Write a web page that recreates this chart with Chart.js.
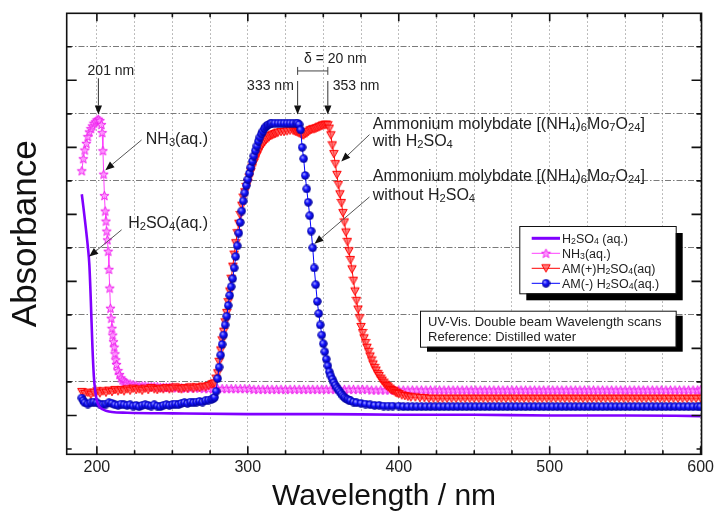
<!DOCTYPE html>
<html>
<head>
<meta charset="utf-8">
<script src="https://cdn.jsdelivr.net/npm/chart.js@4.4.1/dist/chart.umd.min.js"></script>
<style>
  html, body { margin: 0; padding: 0; background: #fff; }
  canvas { display: block; }
</style>
</head>
<body>
<canvas id="uvChart" width="718" height="512"></canvas>
<script>
// Data: [wavelength nm, absorbance]
const h2so4Scan = [[190,3.80],[191,3.62],[192,3.43],[193,3.23],[194,3.02],[195,2.75],[196,2.20],[197,1.55],[198,1.08],[199,0.85],[200,0.72],[201,0.66],[202,0.62],[204,0.59],[206,0.57],[210,0.55],[220,0.54],[250,0.53],[300,0.52],[350,0.52],[400,0.51],[450,0.51],[500,0.50],[550,0.50],[600,0.49]];

const nh3Scan = [[190,4.15],[191,4.33],[192,4.46],[193,4.56],[194,4.66],[195,4.73],[196,4.78],[197,4.82],[198,4.86],[199,4.88],[200,4.91],[201,4.92],[202,4.90],[203,4.84],[203.5,4.72],[204,4.45],[204.5,4.10],[205,3.78],[205.5,3.55],[206,3.40],[206.5,3.25],[207,3.12],[207.5,2.95],[208,2.68],[208.5,2.40],[209,2.10],[209.5,1.95],[210,1.80],[210.5,1.70],[211,1.60],[211.5,1.52],[212,1.42],[212.5,1.33],[213,1.26],[214,1.17],[215,1.11],[216,1.06],[217,1.03],[218,1.01],[219,0.99],[220,0.98],[222,0.97],[224,0.96],[226,0.95],[228,0.94],[230,0.94],[232,0.94],[234,0.93],[236,0.93],[238,0.93],[240,0.93],[242,0.92],[244,0.92],[246,0.92],[248,0.92],[250,0.92],[253,0.91],[256,0.91],[259,0.91],[262,0.91],[265,0.91],[268,0.91],[271,0.90],[274,0.90],[277,0.90],[280,0.90],[283,0.90],[286,0.90],[289,0.90],[292,0.90],[295,0.90],[298,0.90],[301,0.90],[304,0.89],[307,0.89],[310,0.89],[313,0.89],[316,0.89],[319,0.89],[322,0.89],[325,0.89],[328,0.89],[331,0.89],[334,0.89],[337,0.89],[340,0.89],[343,0.89],[346,0.89],[349,0.89],[352,0.89],[355,0.89],[358,0.89],[361,0.89],[364,0.89],[367,0.89],[370,0.89],[373,0.89],[376,0.89],[379,0.89],[382,0.88],[385,0.88],[388,0.88],[391,0.88],[394,0.88],[397,0.88],[400,0.88],
  [403,0.88],[406,0.88],[409,0.88],[412,0.88],[415,0.88],[418,0.88],[421,0.88],[424,0.88],[427,0.88],[430,0.88],[433,0.88],[436,0.88],[439,0.88],[442,0.88],[445,0.88],[448,0.88],[451,0.88],[454,0.88],[457,0.88],[460,0.88],[463,0.88],[466,0.88],[469,0.88],[472,0.88],[475,0.88],[478,0.88],[481,0.88],[484,0.88],[487,0.88],[490,0.88],[493,0.88],[496,0.88],[499,0.88],[502,0.88],[505,0.88],[508,0.88],[511,0.88],[514,0.88],[517,0.88],[520,0.88],[523,0.88],[526,0.88],[529,0.88],[532,0.88],[535,0.88],[538,0.88],[541,0.88],[544,0.88],[547,0.88],[550,0.88],[553,0.88],[556,0.88],[559,0.88],[562,0.88],[565,0.88],[568,0.88],[571,0.88],[574,0.88],[577,0.88],[580,0.88],[583,0.88],[586,0.88],[589,0.88],[592,0.88],[595,0.88],[598,0.88],[600,0.88]];

const amPlusScan = [[190,0.85],[192,0.82],[194,0.84],[196,0.81],[198,0.84],[200,0.86],[202,0.83],[204,0.86],[206,0.84],[208,0.87],[210,0.85],[212,0.88],[214,0.86],[216,0.88],[218,0.86],[220,0.89],[222,0.87],[224,0.90],[226,0.88],[228,0.89],[230,0.87],[232,0.90],[234,0.88],[236,0.91],[238,0.89],[240,0.88],[242,0.90],[244,0.89],[246,0.91],[248,0.89],[250,0.90],[252,0.92],[254,0.90],[256,0.89],[258,0.91],[260,0.90],[262,0.92],[264,0.90],[266,0.92],[268,0.91],[270,0.93],[272,0.92],[274,0.94],[276,0.96],[277,0.97],
  [278,0.98],[279,1.05],[280,1.13],[281,1.30],[282,1.47],[283,1.62],[284,1.75],[285,1.89],[286,2.03],[287,2.19],[288,2.35],[289,2.54],[290,2.72],[291,2.90],[292,3.07],[293,3.22],[294,3.36],[295,3.49],[296,3.63],[297,3.75],[298,3.83],[299,3.91],[300,3.97],[301,4.05],[302,4.13],[303,4.20],[304,4.27],[305,4.32],[306,4.38],[307,4.43],[308,4.48],[309,4.52],[310,4.55],[311,4.58],[312,4.61],[313,4.63],[314,4.65],[315,4.67],[316,4.68],[317,4.69],[318,4.70],[319,4.71],[320,4.72],[322,4.73],[324,4.73],[326,4.74],[328,4.75],[330,4.75],[331,4.74],[332,4.73],[333,4.72],[334,4.71],[335,4.70],[336,4.68],[337,4.68],[338,4.70],[339,4.71],[340,4.73],[341,4.75],[342,4.76],[343,4.77],[344,4.77],[345,4.78],[346,4.79],[347,4.80],[348,4.81],[349,4.82],[350,4.83],[351,4.83],[352,4.84],[353,4.83],[354,4.78],[355,4.68],[356,4.53],[357,4.40],[358,4.25],[359,4.09],[360,3.94],[361,3.80],[362,3.67],[363,3.52],[364,3.38],[365,3.23],[366,3.09],[367,2.95],[368,2.82],[369,2.68],[370,2.51],[371,2.35],[372,2.21],[373,2.08],[374,1.95],[375,1.82],[376,1.73],[377,1.65],[378,1.58],[379,1.51],[380,1.45],[381,1.38],[382,1.32],[383,1.26],[384,1.21],[385,1.17],[386,1.12],[387,1.09],[388,1.05],[389,1.02],[390,0.99],[391,0.96],[392,0.94],[393,0.92],[394,0.90],[395,0.88],[396,0.87],[397,0.86],[398,0.84],[399,0.83],[400,0.82],[402,0.80],[404,0.79],[406,0.78],[408,0.77],[411,0.77],[414,0.76],[417,0.76],[420,0.75],
  [423,0.75],[426,0.75],[429,0.75],[432,0.75],[435,0.75],[438,0.75],[441,0.75],[444,0.75],[447,0.75],[450,0.75],[453,0.75],[456,0.75],[459,0.75],[462,0.75],[465,0.75],[468,0.75],[471,0.75],[474,0.75],[477,0.75],[480,0.75],[483,0.75],[486,0.75],[489,0.75],[492,0.75],[495,0.75],[498,0.75],[501,0.75],[504,0.75],[507,0.75],[510,0.75],[513,0.75],[516,0.75],[519,0.75],[522,0.75],[525,0.75],[528,0.75],[531,0.75],[534,0.75],[537,0.75],[540,0.75],[543,0.75],[546,0.75],[549,0.75],[552,0.75],[555,0.75],[558,0.75],[561,0.75],[564,0.75],[567,0.75],[570,0.75],[573,0.75],[576,0.75],[579,0.75],[582,0.75],[585,0.75],[588,0.75],[591,0.75],[594,0.75],[597,0.75],[600,0.75]];

const amMinusScan = [[190,0.76],[191,0.72],[192,0.69],[194,0.67],[196,0.69],[198,0.70],[200,0.69],[202,0.67],[204,0.66],[206,0.67],[208,0.69],[210,0.68],[212,0.66],[214,0.65],[216,0.67],[218,0.66],[220,0.65],[222,0.66],[224,0.64],[226,0.65],[228,0.63],[230,0.65],[232,0.66],[234,0.65],[236,0.64],[238,0.66],[240,0.64],[242,0.63],[244,0.65],[246,0.66],[248,0.65],[250,0.66],[252,0.67],[254,0.66],[256,0.68],[258,0.69],[260,0.68],[262,0.70],[264,0.69],[266,0.70],[268,0.71],[270,0.70],[272,0.72],[274,0.73],[276,0.74],[277,0.75],
  [278,0.77],[279,0.86],[280,1.05],[281,1.22],[282,1.40],[283,1.56],[284,1.70],[285,1.85],[286,1.98],[287,2.14],[288,2.29],[289,2.42],[290,2.54],[291,2.70],[292,2.87],[293,3.03],[294,3.22],[295,3.38],[296,3.55],[297,3.70],[298,3.82],[299,3.93],[300,4.02],[301,4.11],[302,4.20],[303,4.29],[304,4.37],[305,4.45],[306,4.52],[307,4.59],[308,4.65],[309,4.70],[310,4.74],[311,4.78],[312,4.81],[313,4.83],[314,4.84],[315,4.85],[316,4.86],[318,4.86],[320,4.86],[322,4.86],[324,4.86],[326,4.86],[328,4.86],[330,4.86],[332,4.86],[333,4.86],
  [334,4.84],[335,4.76],[336,4.50],[337,4.33],[338,4.08],[339,3.88],[340,3.68],[341,3.48],[342,3.25],[343,3.00],[344,2.70],[345,2.45],[346,2.20],[347,2.02],[348,1.85],[349,1.70],[350,1.57],[351,1.45],[352,1.34],[353,1.24],[354,1.15],[355,1.09],[356,1.04],[357,0.99],[358,0.95],[359,0.91],[360,0.88],[361,0.85],[362,0.82],[363,0.79],[364,0.77],[365,0.75],[366,0.74],[367,0.73],[368,0.72],[370,0.70],[372,0.69],[375,0.68],[378,0.67],[381,0.66],[384,0.65],[387,0.65],[390,0.64],[393,0.64],[396,0.64],[400,0.64],
  [403,0.63],[406,0.63],[409,0.63],[412,0.63],[415,0.63],[418,0.63],[421,0.63],[424,0.63],[427,0.63],[430,0.63],[433,0.63],[436,0.63],[439,0.63],[442,0.63],[445,0.63],[448,0.63],[451,0.63],[454,0.63],[457,0.63],[460,0.63],[463,0.63],[466,0.63],[469,0.63],[472,0.63],[475,0.63],[478,0.63],[481,0.63],[484,0.63],[487,0.63],[490,0.63],[493,0.63],[496,0.63],[499,0.63],[502,0.63],[505,0.63],[508,0.63],[511,0.63],[514,0.63],[517,0.63],[520,0.63],[523,0.63],[526,0.63],[529,0.63],[532,0.63],[535,0.63],[538,0.63],[541,0.63],[544,0.63],[547,0.63],[550,0.63],[553,0.63],[556,0.63],[559,0.63],[562,0.63],[565,0.63],[568,0.63],[571,0.63],[574,0.63],[577,0.63],[580,0.63],[583,0.63],[586,0.63],[589,0.63],[592,0.63],[595,0.63],[598,0.63],[600,0.63]];

const seriesLabels = ['H2SO4 (aq.)', 'NH3(aq.)', 'AM(+)H2SO4(aq)', 'AM(-) H2SO4(aq.)'];
const legendRich = ['H_2SO_4 (aq.)', 'NH_3(aq.)', 'AM(+)H_2SO_4(aq)', 'AM(-) H_2SO_4(aq.)'];
const xLabelValues = [200, 300, 400, 500, 600];
const peakMarks = [201, 333, 353];

const FONT = '"Liberation Sans", Arial, Helvetica, sans-serif';

// marker sprites
function makeStar() {
  const c = document.createElement('canvas');
  c.width = 11; c.height = 11;
  const g = c.getContext('2d');
  g.beginPath();
  for (let i = 0; i < 10; i++) {
    const r = i % 2 ? 2.0 : 4.8;
    const a = -Math.PI / 2 + i * Math.PI / 5;
    const px = 5.5 + r * Math.cos(a), py = 5.9 + r * Math.sin(a);
    if (i) g.lineTo(px, py); else g.moveTo(px, py);
  }
  g.closePath();
  g.fillStyle = 'rgba(255,150,255,0.9)';
  g.fill();
  g.strokeStyle = '#ee22ee';
  g.lineWidth = 1;
  g.stroke();
  return c;
}

function makeTriangle() {
  const c = document.createElement('canvas');
  c.width = 10; c.height = 10;
  const g = c.getContext('2d');
  g.beginPath();
  g.moveTo(0.8, 1.4); g.lineTo(9.2, 1.4); g.lineTo(5, 8.8); g.closePath();
  g.fillStyle = 'rgba(255,80,80,0.75)';
  g.fill();
  g.strokeStyle = '#ff0000';
  g.lineWidth = 1;
  g.stroke();
  return c;
}

function makeBall() {
  const c = document.createElement('canvas');
  c.width = 9; c.height = 9;
  const g = c.getContext('2d');
  const grad = g.createRadialGradient(3.2, 3.0, 0.4, 4.5, 4.5, 4.5);
  grad.addColorStop(0, '#9a9aff');
  grad.addColorStop(0.4, '#1414ff');
  grad.addColorStop(1, '#00008c');
  g.beginPath();
  g.arc(4.5, 4.5, 4.2, 0, Math.PI * 2);
  g.fillStyle = grad;
  g.fill();
  return c;
}

const starImg = makeStar();
const triImg = makeTriangle();
const ballImg = makeBall();

// text with subscript digits marked by "_"
function richText(ctx, str, x, y, size, align) {
  const parts = [];
  str.replace(/_(\d+)|[^_]+/g, (m, d) => { parts.push(d ? { t: d, sub: true } : { t: m, sub: false }); return m; });
  let total = 0;
  parts.forEach(p => {
    ctx.font = (p.sub ? size * 0.7 : size) + 'px ' + FONT;
    p.w = ctx.measureText(p.t).width;
    total += p.w;
  });
  let cx = align === 'center' ? x - total / 2 : (align === 'right' ? x - total : x);
  ctx.textAlign = 'left';
  ctx.textBaseline = 'alphabetic';
  parts.forEach(p => {
    ctx.font = (p.sub ? size * 0.7 : size) + 'px ' + FONT;
    ctx.fillText(p.t, cx, y + (p.sub ? size * 0.12 : 0));
    cx += p.w;
  });
}

function arrow(ctx, x1, y1, x2, y2, lineColor) {
  const ang = Math.atan2(y2 - y1, x2 - x1);
  const hl = 9, hw = 3.6;
  const bx = x2 - hl * Math.cos(ang), by = y2 - hl * Math.sin(ang);
  ctx.strokeStyle = lineColor;
  ctx.lineWidth = 1;
  ctx.beginPath(); ctx.moveTo(x1, y1); ctx.lineTo(bx, by); ctx.stroke();
  ctx.fillStyle = '#111';
  ctx.beginPath();
  ctx.moveTo(x2, y2);
  ctx.lineTo(bx + hw * Math.sin(ang), by - hw * Math.cos(ang));
  ctx.lineTo(bx - hw * Math.sin(ang), by + hw * Math.cos(ang));
  ctx.closePath();
  ctx.fill();
}

// frame + inward ticks
const framePlugin = {
  id: 'frame',
  afterDatasetsDraw(chart) {
    const { ctx, chartArea: a, scales: { x, y } } = chart;
    ctx.save();
    ctx.strokeStyle = '#111';
    ctx.lineWidth = 1.6;
    ctx.strokeRect(a.left, a.top, a.right - a.left, a.bottom - a.top);
    ctx.beginPath();
    for (let v = 200; v <= 600; v += 25) {
      const px = x.getPixelForValue(v);
      const len = v % 100 === 0 ? 8 : 4;
      ctx.moveTo(px, a.bottom); ctx.lineTo(px, a.bottom - len);
      ctx.moveTo(px, a.top); ctx.lineTo(px, a.top + len);
    }
    for (let v = 0; v <= 6; v += 0.5) {
      const py = y.getPixelForValue(v);
      const len = v % 1 ? 10 : 5;
      ctx.moveTo(a.left, py); ctx.lineTo(a.left + len, py);
      ctx.moveTo(a.right, py); ctx.lineTo(a.right - len, py);
    }
    ctx.stroke();
    ctx.restore();
  }
};

// peak labels, arrows, legend and note boxes
const notesPlugin = {
  id: 'notes',
  afterDraw(chart) {
    const { ctx, scales: { x, y } } = chart;
    const X = v => x.getPixelForValue(v), Y = v => y.getPixelForValue(v);
    ctx.save();
    ctx.fillStyle = '#222';

    // peak wavelength arrows
    richText(ctx, '201 nm', X(209.3), Y(5.65) + 5, 14, 'center');
    ctx.fillStyle = '#222';
    richText(ctx, '333 nm', X(315), Y(5.43) + 5, 14, 'center');
    richText(ctx, '353 nm', X(356.3), Y(5.43) + 5, 14, 'left');
    peakMarks.forEach(p => arrow(ctx, X(p), p === 201 ? Y(5.53) : Y(5.49), X(p), Y(4.99), '#333'));

    // delta bracket
    ctx.fillStyle = '#222';
    richText(ctx, '\u03b4 = 20 nm', X(358), Y(5.83) + 5, 14, 'center');
    ctx.strokeStyle = '#444';
    ctx.lineWidth = 1;
    ctx.beginPath();
    const by = Y(5.64);
    ctx.moveTo(X(333), by); ctx.lineTo(X(353), by);
    ctx.moveTo(X(333), by - 4); ctx.lineTo(X(333), by + 4);
    ctx.moveTo(X(353), by - 4); ctx.lineTo(X(353), by + 4);
    ctx.stroke();

    // curve labels
    ctx.fillStyle = '#222';
    richText(ctx, 'NH_3(aq.)', X(232.4), Y(4.635) + 6, 16, 'left');
    arrow(ctx, X(229.6), Y(4.61), X(205.6), Y(4.16), '#555');
    ctx.fillStyle = '#222';
    richText(ctx, 'H_2SO_4(aq.)', X(220.7), Y(3.39) + 6, 16, 'left');
    arrow(ctx, X(216.4), Y(3.27), X(194.9), Y(2.87), '#555');

    ctx.fillStyle = '#222';
    richText(ctx, 'Ammonium molybdate [(NH_4)_6Mo_7O_24]', X(382.8), Y(4.86) + 6, 16, 'left');
    richText(ctx, 'with H_2SO_4', X(382.8), Y(4.61) + 6, 16, 'left');
    arrow(ctx, X(380.6), Y(4.69), X(361.9), Y(4.29), '#555');
    ctx.fillStyle = '#222';
    richText(ctx, 'Ammonium molybdate [(NH_4)_6Mo_7O_24]', X(382.8), Y(4.09) + 6, 16, 'left');
    richText(ctx, 'without H_2SO_4', X(382.8), Y(3.81) + 6, 16, 'left');
    arrow(ctx, X(380.6), Y(3.76), X(344.2), Y(3.06), '#555');

    // legend box with shadow
    const lx = 519.3, ly = 226, lw = 156.4, lh = 67.3;
    ctx.fillStyle = '#000';
    ctx.fillRect(lx + 7, ly + 7, lw, lh);
    ctx.fillStyle = '#fff';
    ctx.fillRect(lx, ly, lw, lh);
    ctx.strokeStyle = '#111';
    ctx.lineWidth = 1;
    ctx.strokeRect(lx + 0.5, ly + 0.5, lw, lh);
    chart.data.datasets.forEach((ds, i) => {
      const ry = 238.3 + i * 15;
      ctx.strokeStyle = ds.borderColor;
      ctx.lineWidth = i === 0 ? 3 : 1;
      ctx.beginPath(); ctx.moveTo(531.7, ry); ctx.lineTo(560, ry); ctx.stroke();
      if (ds.pointStyle && typeof ds.pointStyle === 'object') {
        const im = ds.pointStyle;
        ctx.drawImage(im, 546 - im.width / 2, ry - im.height / 2);
      }
      ctx.fillStyle = '#222';
      richText(ctx, legendRich[i], 562, ry + 4.5, 12.5, 'left');
    });

    // scan note box
    const nx = 420, ny = 310.7, nw = 255.7, nh = 36;
    ctx.fillStyle = '#000';
    ctx.fillRect(nx + 7, ny + 5, nw, nh);
    ctx.fillStyle = '#fff';
    ctx.fillRect(nx, ny, nw, nh);
    ctx.strokeStyle = '#111';
    ctx.strokeRect(nx + 0.5, ny + 0.5, nw, nh);
    ctx.fillStyle = '#222';
    richText(ctx, 'UV-Vis. Double beam Wavelength scans', 428, ny + 15.5, 13, 'left');
    richText(ctx, 'Reference: Distilled water', 428, ny + 30, 13, 'left');
    ctx.restore();
  }
};

const ctx = document.getElementById('uvChart').getContext('2d');
new Chart(ctx, {
  type: 'line',
  data: {
    datasets: [
      {
        label: seriesLabels[0], data: h2so4Scan,
        borderColor: '#8000ff', borderWidth: 2.6, pointRadius: 0,
        cubicInterpolationMode: 'monotone', order: 0
      },
      {
        label: seriesLabels[1], data: nh3Scan,
        borderColor: '#ff40ff', borderWidth: 1, pointStyle: starImg, pointRadius: 4,
        order: 3
      },
      {
        label: seriesLabels[2], data: amPlusScan,
        borderColor: '#ff0000', borderWidth: 1, pointStyle: triImg, pointRadius: 4,
        order: 2
      },
      {
        label: seriesLabels[3], data: amMinusScan,
        borderColor: '#0000ff', borderWidth: 1, pointStyle: ballImg, pointRadius: 4,
        order: 1
      }
    ]
  },
  options: {
    responsive: false,
    animation: false,
    layout: { padding: { top: 13.3, right: 15.3, left: 0, bottom: 0 } },
    plugins: { legend: { display: false }, tooltip: { enabled: false } },
    scales: {
      x: {
        type: 'linear', min: 180, max: 600.6,
        afterFit: s => { s.height = 57.7; },
        ticks: {
          stepSize: 25, autoSkip: false, maxRotation: 0, includeBounds: false,
          callback: v => xLabelValues.includes(v) ? String(v) : '',
          font: { family: FONT, size: 16 }, color: '#222', padding: 4
        },
        grid: { color: '#a8a8a8', lineWidth: 1, drawTicks: false },
        border: { display: false, dash: [1.5, 2.5] },
        title: {
          display: true, text: 'Wavelength / nm', color: '#111',
          font: { family: FONT, size: 30, lineHeight: 1 }, padding: { top: 0, bottom: 0 }
        }
      },
      y: {
        type: 'linear', min: -0.08, max: 6.5,
        afterFit: s => { s.width = 66.7; },
        ticks: { display: false, stepSize: 1, includeBounds: false },
        grid: {
          color: c => (c.tick && c.tick.value >= 1 && c.tick.value <= 6) ? '#7a7a7a' : 'rgba(0,0,0,0)',
          lineWidth: 1, drawTicks: false
        },
        border: { display: false, dash: [6, 2, 1.5, 2] },
        title: {
          display: true, text: 'Absorbance', color: '#111',
          font: { family: FONT, size: 35, lineHeight: 1 }, padding: { top: 9, bottom: 0 }
        }
      }
    }
  },
  plugins: [framePlugin, notesPlugin]
});
</script>
</body>
</html>
